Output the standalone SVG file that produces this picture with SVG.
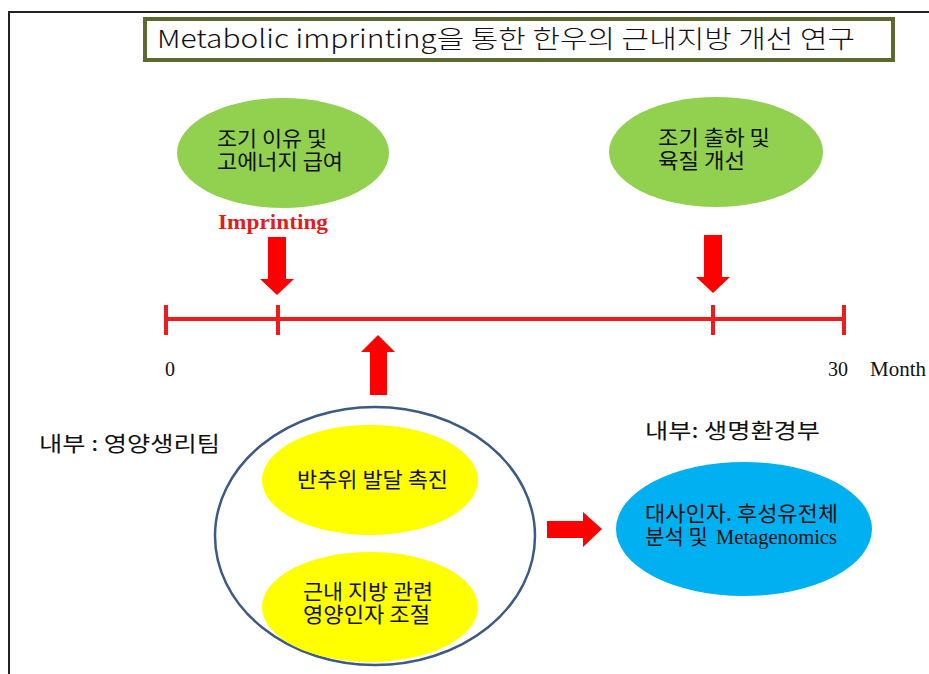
<svg xmlns="http://www.w3.org/2000/svg" width="929" height="674" viewBox="0 0 929 674">
<style>
.ko{font-family:"Noto Sans CJK KR","Noto Sans",sans-serif;fill:#111;}
.tm{font-family:"Liberation Serif","Times New Roman",serif;fill:#111;}
.arr{fill:#FF0000;}
.tl{stroke:#EE1C1C;stroke-width:4;fill:none;}
</style>
<rect width="929" height="674" fill="#fff"/>
<path d="M9,674 V12 H929" fill="none" stroke="#222" stroke-width="2"/>
<g id="title">
<rect x="145" y="19" width="748" height="41" fill="#fff" stroke="#5C6A2E" stroke-width="4"/>
<text class="ko" x="157" y="48" font-size="25" font-weight="300" textLength="698" lengthAdjust="spacingAndGlyphs">Metabolic imprinting을 통한 한우의 근내지방 개선 연구</text>
</g>
<g id="node-weaning">
<ellipse cx="283" cy="153" rx="106" ry="55" fill="#92D050"/>
<text class="ko" x="217" y="146" font-size="21" textLength="110" lengthAdjust="spacingAndGlyphs">조기 이유 및</text>
<text class="ko" x="217" y="169" font-size="21" textLength="126" lengthAdjust="spacingAndGlyphs">고에너지 급여</text>
</g>
<g id="node-shipping">
<ellipse cx="716" cy="152" rx="107" ry="55" fill="#92D050"/>
<text class="ko" x="658" y="145" font-size="21" textLength="112" lengthAdjust="spacingAndGlyphs">조기 출하 및</text>
<text class="ko" x="658" y="168" font-size="21" textLength="87" lengthAdjust="spacingAndGlyphs">육질 개선</text>
</g>
<g id="label-imprinting">
<text x="218" y="229" font-family="'Liberation Serif','Times New Roman',serif" font-weight="bold" font-size="20" fill="#E31C1C" textLength="110" lengthAdjust="spacingAndGlyphs">Imprinting</text>
</g>
<g id="timeline">
<line class="tl" x1="166" y1="319" x2="844" y2="319"/>
<line class="tl" x1="166" y1="305" x2="166" y2="335"/>
<line class="tl" x1="278" y1="305" x2="278" y2="335"/>
<line class="tl" x1="713" y1="305" x2="713" y2="335"/>
<line class="tl" x1="844" y1="305" x2="844" y2="335"/>
<text class="tm" x="165" y="376" font-size="20">0</text>
<text class="tm" x="828" y="376" font-size="20">30</text>
<text class="tm" x="870" y="376" font-size="21">Month</text>
</g>
<g id="node-team">
<text class="ko" x="39" y="451" font-size="21" textLength="181" lengthAdjust="spacingAndGlyphs">내부 : 영양생리팀</text>
</g>
<g id="node-circle">
<ellipse cx="375" cy="536" rx="160" ry="129" fill="#fff" stroke="#3C5A82" stroke-width="2.5"/>
</g>
<g id="node-rumen">
<ellipse cx="370" cy="480" rx="108" ry="55" fill="#FFFF00"/>
<text class="ko" x="297" y="487" font-size="21" textLength="151" lengthAdjust="spacingAndGlyphs">반추위 발달 촉진</text>
</g>
<g id="node-fat">
<ellipse cx="370" cy="607" rx="108" ry="55" fill="#FFFF00"/>
<text class="ko" x="303" y="599" font-size="21" textLength="130" lengthAdjust="spacingAndGlyphs">근내 지방 관련</text>
<text class="ko" x="303" y="622" font-size="21" textLength="127" lengthAdjust="spacingAndGlyphs">영양인자 조절</text>
</g>
<g id="node-env">
<text class="ko" x="645" y="438" font-size="21" textLength="175" lengthAdjust="spacingAndGlyphs">내부: 생명환경부</text>
</g>
<g id="node-analysis">
<ellipse cx="744" cy="529" rx="128" ry="67" fill="#00B0F0"/>
<text class="ko" x="645" y="521" font-size="21" textLength="193" lengthAdjust="spacingAndGlyphs">대사인자. 후성유전체</text>
<text class="ko" x="645" y="544" font-size="21" textLength="63" lengthAdjust="spacingAndGlyphs">분석 및</text>
<text class="tm" x="716" y="544" font-size="21" textLength="121" lengthAdjust="spacingAndGlyphs">Metagenomics</text>
</g>
<g id="connectors">
<polygon class="arr" points="268,237 286,237 286,279 294,279 277,295 260,279 268,279"/>
<polygon class="arr" points="704,235 722,235 722,277 730,277 713,293 696,277 704,277"/>
<polygon class="arr" points="370,395 387,395 387,352 395,352 378,335 361,352 370,352"/>
<polygon class="arr" points="547,521 583,521 583,512 602,529 583,547 583,538 547,538"/>
</g>
</svg>
